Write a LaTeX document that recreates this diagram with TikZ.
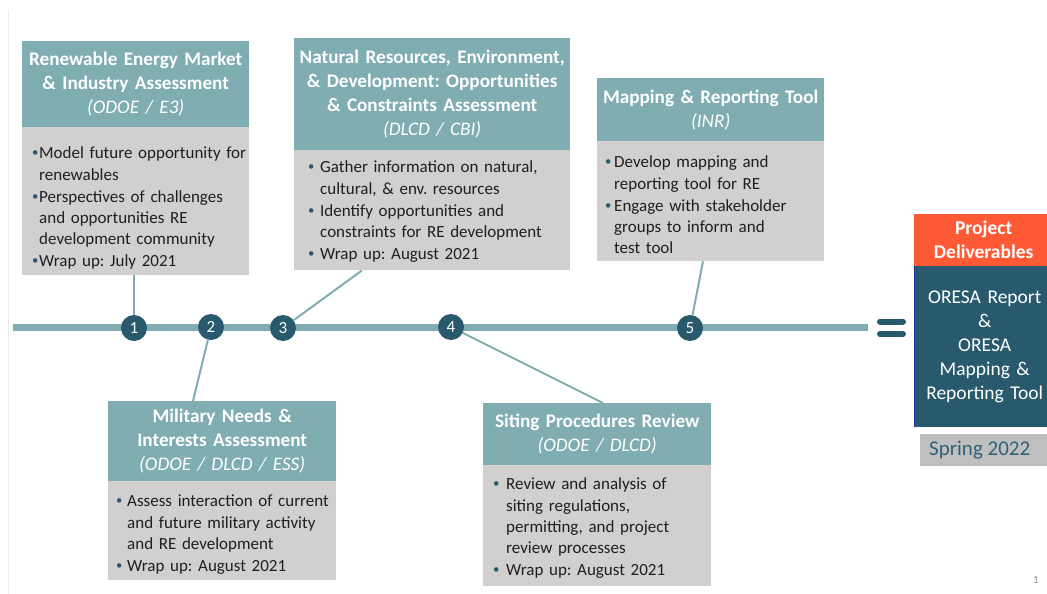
\documentclass[tikz,border=0pt]{standalone}
\usepackage{fontspec}
\setmainfont{Carlito}
\usetikzlibrary{calc}
\definecolor{hdr}{HTML}{7FADB2}
\definecolor{bodyg}{HTML}{D2CFCF}
\definecolor{dark}{HTML}{29596D}
\definecolor{orng}{HTML}{FF5A36}
\definecolor{sprg}{HTML}{BFBFBF}
\definecolor{sprtxt}{HTML}{2F6278}
\frenchspacing
\newcommand{\bul}[2][8pt]{\noindent\makebox[#1][l]{\raisebox{2pt}{\textcolor{dark}{\scalebox{0.75}{\textbullet}}}}\begin{tabular}[t]{@{}l@{}}#2\end{tabular}\par}
\tikzset{
  hdrbox/.style={fill=hdr, anchor=north west, inner sep=0pt, align=center, text=white,
    font=\fontsize{19.2}{24}\selectfont\bfseries},
  bodybox/.style={fill=bodyg, anchor=north west, inner sep=0pt},
  bodytext/.style={anchor=north west, inner sep=0pt, align=left, text width=220pt,
    font=\fontsize{17}{21.1}\selectfont, text=black!88},
  num/.style={circle, fill=dark, text=white, minimum size=26pt, inner sep=0pt,
    font=\fontsize{17}{17}\selectfont},
  conn/.style={draw=hdr, line width=2pt},
  delv/.style={anchor=north west, minimum width=133pt, inner sep=0pt,
    text width=133pt, align=center, text=white},
}
\newcommand{\sub}[1]{{\mdseries\itshape #1}}
\begin{document}
\begin{tikzpicture}[x=1pt,y=-1pt]
\useasboundingbox (0,0) rectangle (1047,594);
\draw[black!8, line width=0.8pt] (8,10) -- (8,594);
% timeline
\draw[hdr, line width=7pt] (13,327) -- (868,327);
% equals
\draw[dark, line width=6pt, line cap=round] (880,321.5) -- (903,321.5);
\draw[dark, line width=6pt, line cap=round] (880,334) -- (903,334);
% box 1
\node[hdrbox, minimum width=227pt, minimum height=86pt, text width=227pt] (h1) at (22,41)
  {Renewable Energy Market\\ \& Industry Assessment\\ \sub{(ODOE / E3)}};
\node[bodybox, minimum width=227pt, minimum height=148pt] (b1) at (22,127) {};
\node[bodytext] (t1) at ($(b1.north west)+(10,17)$)
  {\bul[7pt]{Model future opportunity for\\ renewables}\bul[7pt]{Perspectives of challenges\\ and opportunities RE\\ development community}\bul[7pt]{Wrap up: July 2021}};
% box 3
\node[hdrbox, minimum width=276pt, minimum height=112pt, text width=276pt] (h3) at (294,38)
  {Natural Resources, Environment,\\ \& Development: Opportunities\\ \& Constraints Assessment\\ \sub{(DLCD / CBI)}};
\node[bodybox, minimum width=276pt, minimum height=120pt] (b3) at (294,150) {};
\node[bodytext, text width=255pt] (t3) at ($(b3.north west)+(14,8)$)
  {\bul[12pt]{Gather information on natural,\\ cultural, \& env. resources}\bul[12pt]{Identify opportunities and\\ constraints for RE development}\bul[12pt]{Wrap up: August 2021}};
% box 5
\node[hdrbox, minimum width=227pt, minimum height=63pt, text width=227pt] (h5) at (597,78)
  {Mapping \& Reporting Tool\\ \sub{(INR)}};
\node[bodybox, minimum width=227pt, minimum height=120pt] (b5) at (597,141) {};
\node[bodytext] (t5) at ($(b5.north west)+(8,12)$)
  {\bul[9pt]{Develop mapping and\\ reporting tool for RE}\bul[9pt]{Engage with stakeholder\\ groups to inform and\\ test tool}};
% box 2
\node[hdrbox, minimum width=228pt, minimum height=80pt, text width=228pt] (h2) at (108,401)
  {Military Needs \&\\ Interests Assessment\\ \sub{(ODOE / DLCD / ESS)}};
\node[bodybox, minimum width=228pt, minimum height=99pt] (b2) at (108,481) {};
\node[bodytext] (t2) at ($(b2.north west)+(8,11)$)
  {\bul[11pt]{Assess interaction of current\\ and future military activity\\ and RE development}\bul[11pt]{Wrap up: August 2021}};
% box 4
\node[hdrbox, minimum width=228pt, minimum height=62pt, text width=228pt] (h4) at (483,403)
  {Siting Procedures Review\\ \sub{(ODOE / DLCD)}};
\node[bodybox, minimum width=228pt, minimum height=121pt] (b4) at (483,465) {};
\node[bodytext] (t4) at ($(b4.north west)+(10,10)$)
  {\bul[13pt]{Review and analysis of\\ siting regulations,\\ permitting, and project\\ review processes}\bul[13pt]{Wrap up: August 2021}};
% connectors
\coordinate (p1) at ($(b1.south west)+(112,0)$);
\coordinate (p3) at ($(b3.south west)+(68,0)$);
\coordinate (p5) at ($(b5.south west)+(106,0)$);
\coordinate (p2) at ($(h2.north west)+(85,0)$);
\coordinate (p4) at ($(h4.north west)+(120,0)$);
\node[num] (c1) at (134,328) {1};
\node[num] (c2) at (211,327) {2};
\node[num] (c3) at (283,328) {3};
\node[num] (c4) at (451,327) {4};
\node[num] (c5) at (690,328) {5};
\draw[conn] (p1) -- (c1);
\draw[conn] (p3) -- (c3);
\draw[conn] (p5) -- (c5);
\draw[conn] (c2) -- (p2);
\draw[conn] (c4) -- (p4);
% deliverables
\node[delv, fill=orng, minimum height=52pt, font=\fontsize{19.5}{24}\selectfont\bfseries]
  (dh) at (914,214) {\hspace*{6pt}Project\\ \hspace*{6pt}Deliverables};
\node[delv, fill=dark, minimum height=161pt, font=\fontsize{19.5}{24}\selectfont]
  (db) at (914,266) {\hspace*{8pt}ORESA Report\\ \hspace*{8pt}\&\\ \hspace*{8pt}ORESA\\ \hspace*{8pt}Mapping \&\\ \hspace*{8pt}Reporting Tool};
\draw[blue!40!dark, line width=0.6pt] (db.north west) -- (db.south west);
\node[fill=sprg, anchor=north west, minimum width=127pt, minimum height=32pt, inner sep=0pt,
  text=sprtxt, font=\fontsize{21}{24}\selectfont] (sp) at (920,434) {Spring 2022\hspace*{8pt}};
\node[text=black!45, font=\fontsize{11}{11}\selectfont, inner sep=0pt] (pg) at (1036,580) {1};
\end{tikzpicture}
\end{document}
